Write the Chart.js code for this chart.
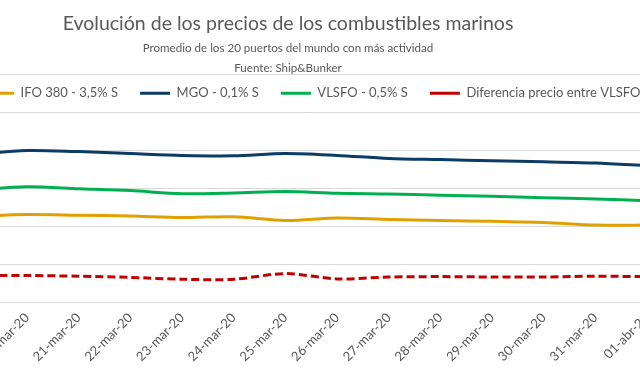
<!DOCTYPE html>
<html>
<head>
<meta charset="utf-8">
<script src="https://cdn.jsdelivr.net/npm/chart.js@4/dist/chart.umd.min.js"></script>
<style>
  html, body { margin: 0; padding: 0; background: #ffffff; }
  #frame { position: relative; width: 640px; height: 391px; overflow: hidden; }
  #wrap { position: absolute; left: -97px; top: 0; width: 770px; height: 391px; }
</style>
</head>
<body>
<div id="frame"><div id="wrap"><canvas id="c"></canvas></div></div>
<script>
// ---- data ----
const categories = ['19-mar-20', '20-mar-20', '21-mar-20', '22-mar-20', '23-mar-20', '24-mar-20', '25-mar-20',
                    '26-mar-20', '27-mar-20', '28-mar-20', '29-mar-20', '30-mar-20', '31-mar-20', '01-abr-20'];
const ifo380     = [226, 231, 229, 227, 223, 225, 215, 222, 218, 215, 213, 210, 203, 203];
const mgo        = [390, 400, 397, 392, 387, 386, 392, 387, 379, 376, 373, 370, 367, 360];
const vlsfo      = [296, 304, 299, 294, 286, 288, 292, 287, 285, 282, 279, 275, 272, 267];
const diferencia = [ 70,  70,  68,  65,  60,  60,  75,  61,  66,  67,  66,  66,  68,  67];
const seriesNames = ['IFO 380 - 3,5% S', 'MGO - 0,1% S', 'VLSFO - 0,5% S', 'Diferencia precio entre VLSFO e IFO 380'];
const yTickValues = [0, 100, 200, 300, 400, 500, 600];
const titleText = 'Evolución de los precios de los combustibles marinos';
const subtitleLines = ['Promedio de los 20 puertos del mundo con más actividad', 'Fuente: Ship&Bunker'];

// ---- styling / layout ----
const FONT = 'Lato, "Open Sans", sans-serif';
const TEXT = '#595959';
const GRID = '#D9D9D9';
const LEGEND_FONT = 13;
const LEGEND_PAD = 22;
const LEGEND_MIDDLE_Y = 93.3;   // canvas px
const LEGEND_START_X = 81;      // canvas px (first sample start)

const legendOverlay = {
  id: 'legendOverlay',
  afterLayout(chart) {
    const lg = chart.legend;
    if (!lg) return;
    const top = LEGEND_MIDDLE_Y - LEGEND_PAD - LEGEND_FONT / 2;
    lg.top = top;
    lg.height = LEGEND_PAD * 2 + LEGEND_FONT + 10;
    lg.bottom = top + lg.height;
    lg.left = LEGEND_START_X - LEGEND_PAD;
    lg.width = 2000;
    lg.right = lg.left + lg.width;
  }
};

const mk = (label, data, color, dash) => ({
  label, data,
  borderColor: color,
  backgroundColor: color,
  borderWidth: 3,
  borderDash: dash || [],
  pointRadius: 0,
  pointHoverRadius: 0,
  tension: 0.3,
  fill: false
});

new Chart(document.getElementById('c'), {
  type: 'line',
  data: {
    labels: categories,
    datasets: [
      mk(seriesNames[0], ifo380, '#E0A000'),
      mk(seriesNames[1], mgo, '#0C3B65'),
      mk(seriesNames[2], vlsfo, '#00B050'),
      mk(seriesNames[3], diferencia, '#C00000', [8, 4])
    ]
  },
  options: {
    responsive: true,
    maintainAspectRatio: false,
    animation: false,
    events: [],
    layout: { padding: 0 },
    scales: {
      x: {
        type: 'category',
        offset: true,
        grid: { display: false, drawTicks: false },
        border: { display: true, color: GRID, width: 1 },
        ticks: {
          autoSkip: false, maxRotation: 45, minRotation: 45,
          color: TEXT, font: { family: FONT, size: 13 }, padding: 8
        },
        afterFit(s) { s.height = 89; }
      },
      y: {
        min: yTickValues[0],
        max: yTickValues[yTickValues.length - 1],
        ticks: { stepSize: 100, display: false },
        grid: { color: GRID, lineWidth: 1, drawTicks: false },
        border: { display: false },
        afterFit(s) { s.width = 46.5; }
      }
    },
    plugins: {
      title: {
        display: true, text: titleText, color: TEXT,
        font: { family: FONT, size: 19.5, weight: 'normal', lineHeight: 1.2 },
        padding: { top: 12, bottom: 0 }
      },
      subtitle: {
        display: true, text: subtitleLines, color: TEXT,
        font: { family: FONT, size: 11.6, weight: 'normal', lineHeight: '20.7px' },
        padding: { top: 2.25, bottom: -5.35 }
      },
      legend: {
        display: true, position: 'top', align: 'start', maxHeight: 1,
        labels: {
          usePointStyle: true, pointStyle: 'line', pointStyleWidth: 30,
          color: TEXT, font: { family: FONT, size: LEGEND_FONT }, padding: LEGEND_PAD
        }
      },
      tooltip: { enabled: false }
    }
  },
  plugins: [legendOverlay]
});
</script>
</body>
</html>
